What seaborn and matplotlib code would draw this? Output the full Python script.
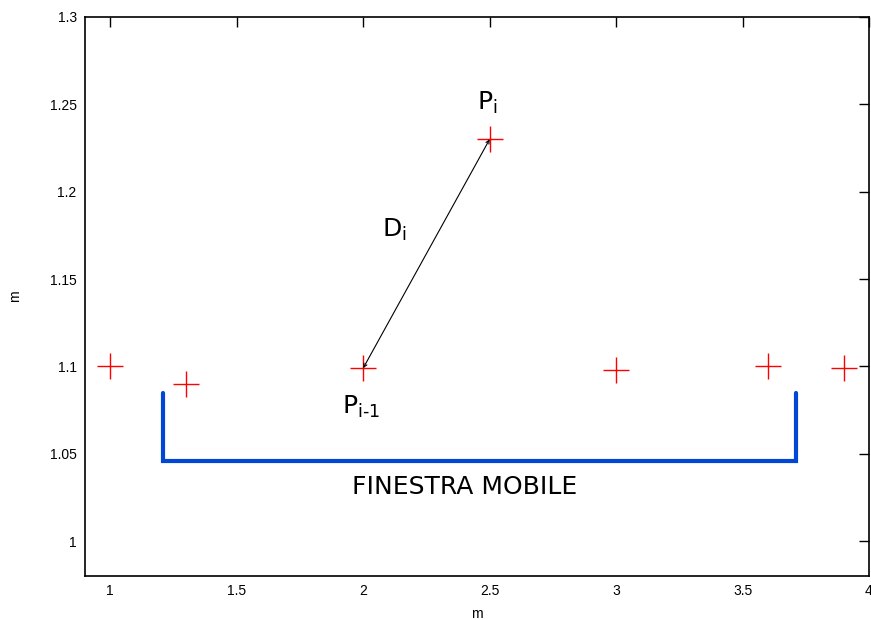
import matplotlib
matplotlib.use("Agg")
import matplotlib.pyplot as plt
import seaborn as sns
import pandas as pd

# data
x_vals = [1.0, 1.3, 2.0, 2.5, 3.0, 3.6, 3.9]
y_vals = [1.1, 1.09, 1.099, 1.23, 1.098, 1.1, 1.099]
window_x = [1.21, 3.71]
window_top = 1.085
window_bottom = 1.046
x_ticks = [1, 1.5, 2, 2.5, 3, 3.5, 4]
x_tick_labels = ["1", "1.5", "2", "2.5", "3", "3.5", "4"]
y_ticks = [1.0, 1.05, 1.1, 1.15, 1.2, 1.25, 1.3]
y_tick_labels = ["1", "1.05", "1.1", "1.15", "1.2", "1.25", "1.3"]

sns.set_style("white")
plt.rcParams['font.family'] = ['Liberation Sans', 'DejaVu Sans']
plt.rcParams['mathtext.fontset'] = 'dejavusans'
plt.rcParams['text.color'] = 'black'
plt.rcParams['axes.labelcolor'] = 'black'

fig = plt.figure(figsize=(8.71, 6.20), dpi=100)
ax = fig.add_axes([0.0976, 0.071, 0.9001, 0.9016])

df = pd.DataFrame({"x": x_vals, "y": y_vals})
sns.scatterplot(data=df, x="x", y="y", marker="+", s=360, color="#ff0000",
                linewidth=1.0, ax=ax, zorder=3)

# arrow between P_{i-1} and P_i
ax.annotate("", xy=(x_vals[2], y_vals[2]), xytext=(x_vals[3], y_vals[3]),
            arrowprops=dict(arrowstyle="<->", color="black", lw=0.8,
                            mutation_scale=6, shrinkA=0, shrinkB=0), zorder=4)

# moving window bracket
ax.plot([window_x[0], window_x[0], window_x[1], window_x[1]],
        [window_top, window_bottom, window_bottom, window_top],
        color="#0047d6", lw=3, solid_joinstyle="miter", zorder=2)

ax.text(2.49, 1.251, r"$\mathrm{P}_\mathrm{i}$", fontsize=18, ha="center", va="center",
        family="DejaVu Sans", color="black")
ax.text(2.125, 1.178, r"$\mathrm{D}_\mathrm{i}$", fontsize=18, ha="center", va="center",
        family="DejaVu Sans", color="black")
ax.text(1.99, 1.077, r"$\mathrm{P}_\mathrm{i\text{-}1}$", fontsize=18, ha="center", va="center",
        family="DejaVu Sans", color="black")
ax.text(2.4, 1.031, "FINESTRA MOBILE", fontsize=18, ha="center", va="center",
        family="DejaVu Sans", color="black")

ax.set_xlim(0.9, 4.0)
ax.set_ylim(0.98, 1.3)
ax.set_xticks(x_ticks)
ax.set_xticklabels(x_tick_labels)
ax.set_yticks(y_ticks)
ax.set_yticklabels(y_tick_labels)
ax.tick_params(direction="in", length=7, width=1, top=True, right=True,
               labelsize=10, pad=6, colors="black")
ax.set_xlabel("m", fontsize=10, labelpad=6)
ax.set_ylabel("m", fontsize=10, labelpad=20)
for s in ax.spines.values():
    s.set_color("black")
    s.set_linewidth(1.2)

fig.savefig("out.png", dpi=100)
